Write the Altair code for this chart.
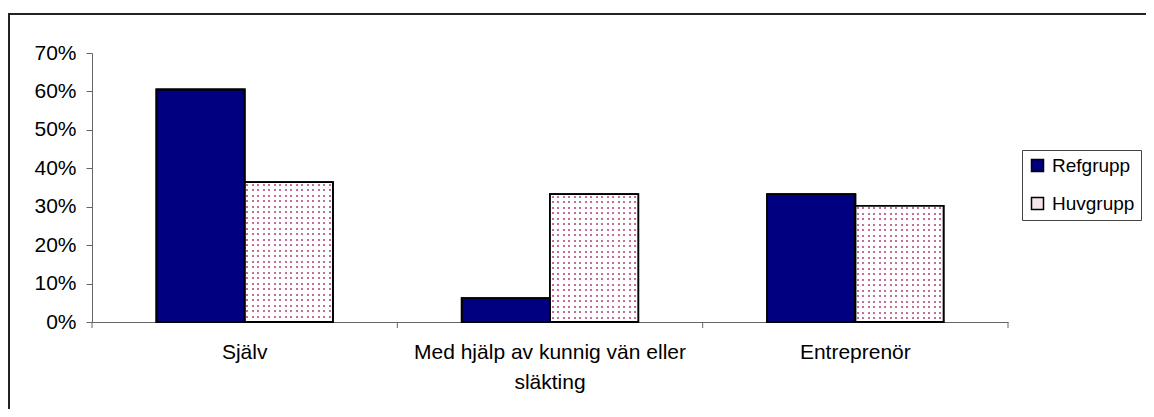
import altair as alt
import pandas as pd

categories = ["Själv", "Med hjälp av kunnig vän eller släkting", "Entreprenör"]
groups = ["Refgrupp", "Huvgrupp"]
ref_values = [0.605, 0.062, 0.333]
huv_values = [0.364, 0.333, 0.302]
y_ticks = [0, 0.1, 0.2, 0.3, 0.4, 0.5, 0.6, 0.7]

rows = []
for c, r, h in zip(categories, ref_values, huv_values):
    rows.append({"cat": c, "group": groups[0], "value": r})
    rows.append({"cat": c, "group": groups[1], "value": h})
df = pd.DataFrame(rows)
cat_df = pd.DataFrame({"cat": categories})
one = pd.DataFrame({"a": [0]})

W, H = 916, 269
YMAX = 0.7
FONT = "Liberation Sans"
PAD_OUT = 0.73
BAR_W = (W / 3) / (2 + 2 * PAD_OUT)
PITCH, DOT = 5.5, 2.0
DOT_COLOR = "#c46c9e"
CLEAR = "rgba(255,255,255,0)"

xscale = alt.Scale(domain=categories, paddingInner=0, paddingOuter=0)
yscale = alt.Scale(domain=[0, YMAX], nice=False)

x_axis = alt.Axis(labelAngle=0, ticks=False, domainColor="#666", domainWidth=1,
                  labelFontSize=21, labelFont=FONT, labelColor="black",
                  labelPadding=19, labelLineHeight=30, labelLimit=0,
                  labelExpr="datum.label == 'Med hjälp av kunnig vän eller släkting' ? ['Med hjälp av kunnig vän eller', 'släkting'] : datum.label")
y_axis = alt.Axis(format="%", values=y_ticks, grid=False, domainColor="#666",
                  tickColor="#666", tickSize=6, labelFontSize=21, labelFont=FONT,
                  labelColor="black", labelPadding=10, labelOverlap=False)

X = alt.X("cat:N", sort=categories, scale=xscale, title=None, axis=x_axis)
XO = alt.XOffset("group:N", sort=groups,
                 scale=alt.Scale(domain=groups, paddingInner=0, paddingOuter=PAD_OUT))
Y = alt.Y("value:Q", scale=yscale, title=None, axis=y_axis)


def stripes(length, on, off):
    stops = [alt.GradientStop(offset=0, color=off)]
    k = 0
    while True:
        a = (1.5 + k * PITCH) / length
        b = (1.5 + k * PITCH + DOT) / length
        if b >= 1:
            break
        stops += [alt.GradientStop(offset=a, color=off), alt.GradientStop(offset=a, color=on),
                  alt.GradientStop(offset=b, color=on), alt.GradientStop(offset=b, color=off)]
        k += 1
    stops.append(alt.GradientStop(offset=1, color=off))
    return stops


bars = alt.Chart(df).mark_bar(stroke="black", strokeWidth=1.8).encode(
    x=X, xOffset=XO, y=Y,
    color=alt.Color("group:N", sort=groups,
                    scale=alt.Scale(domain=groups, range=["#000080", "#f5e3ec"]),
                    legend=alt.Legend(title=None, orient="none", legendX=930, legendY=97,
                                      symbolType="square", symbolSize=144,
                                      symbolStrokeColor="black", symbolStrokeWidth=1.5,
                                      labelFontSize=19, labelFont=FONT, labelColor="black",
                                      rowPadding=18, padding=6, strokeColor="#444",
                                      fillColor="white", labelOffset=5)),
)

pattern_layers = []
for c, h in zip(categories, huv_values):
    bar_h = h / YMAX * H
    base = alt.Chart(df).transform_filter(
        (alt.datum.cat == c) & (alt.datum.group == groups[1])
    )
    rows_layer = base.mark_bar(
        fill=alt.Gradient(gradient="linear", x1=0, y1=0, x2=0, y2=1,
                          stops=stripes(bar_h, DOT_COLOR, "white")),
        strokeWidth=0,
    ).encode(x=X, xOffset=XO, y=Y)
    cols_layer = base.mark_bar(
        fill=alt.Gradient(gradient="linear", x1=0, y1=0, x2=1, y2=0,
                          stops=stripes(BAR_W, CLEAR, "white")),
        strokeWidth=0,
    ).encode(x=X, xOffset=XO, y=Y)
    pattern_layers += [rows_layer, cols_layer]

outline = alt.Chart(df).mark_bar(filled=False, stroke="black", strokeWidth=1.8).encode(
    x=X, xOffset=XO, y=Y,
)

ticks = alt.Chart(cat_df).mark_rule(color="#666").encode(
    x=alt.X("cat:N", sort=categories, scale=xscale, bandPosition=0, axis=x_axis, title=None),
    y=alt.value(H), y2=alt.value(H + 6),
)
end_tick = alt.Chart(one).mark_rule(color="#666").encode(
    x=alt.value(W), y=alt.value(H), y2=alt.value(H + 6),
)
frame = alt.Chart(one).mark_rect(filled=False, stroke="#222", strokeWidth=2).encode(
    x=alt.value(-83), x2=alt.value(1100), y=alt.value(-39), y2=alt.value(420),
)

chart = alt.layer(frame, bars, *pattern_layers, outline, ticks, end_tick).properties(
    width=W, height=H,
    autosize=alt.AutoSizeParams(type="none"),
    padding={"left": 84, "top": 45, "right": 138, "bottom": 87},
).configure(background="white").configure_view(stroke=None)

chart.save("out.html", embed_options={"renderer": "svg", "actions": False})
